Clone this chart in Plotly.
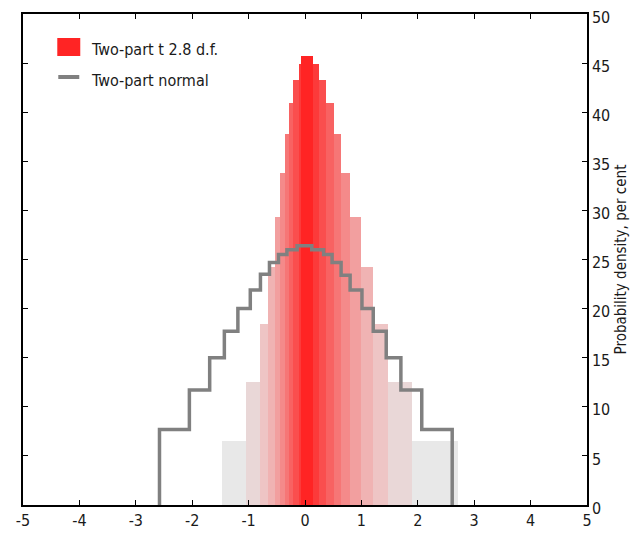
import plotly.graph_objects as go

# ---- data ----
# Two-part t (2.8 d.f.) fan bands, outermost to innermost
band_left = [-1.48, -1.05, -0.80, -0.65, -0.54, -0.45, -0.35, -0.28, -0.21, -0.11, -0.07]
band_right = [2.71, 1.90, 1.48, 1.21, 0.99, 0.80, 0.64, 0.51, 0.37, 0.24, 0.135]
band_height = [6.55, 12.55, 18.4, 24.2, 29.3, 33.8, 37.75, 40.9, 43.3, 44.9, 45.7]

# Two-part normal step outline: step edges and heights between them
normal_edges = [-2.58, -2.05, -1.69, -1.43, -1.19, -0.97, -0.79, -0.63, -0.47, -0.32, -0.14,
                0.12, 0.33, 0.48, 0.64, 0.80, 1.01, 1.21, 1.44, 1.70, 2.07, 2.61]
normal_height = [7.7, 11.7, 15.0, 17.7, 20.0, 21.9, 23.5, 24.7, 25.5, 26.0, 26.4,
                 26.0, 25.5, 24.7, 23.4, 21.9, 20.0, 17.7, 15.0, 11.7, 7.7]

x_ticks = [-5, -4, -3, -2, -1, 0, 1, 2, 3, 4, 5]
y_ticks = [0, 5, 10, 15, 20, 25, 30, 35, 40, 45, 50]

legend_labels = ["Two-part t 2.8 d.f.", "Two-part normal"]
y_title = "Probability density, per cent"

# ---- styles ----
band_colors = ["#e8e8e8", "#e9d7d7", "#eec5c5", "#f0b3b3", "#f29f9f", "#f48a8a",
               "#f67676", "#f86262", "#fa4e4e", "#fc3a3a", "#ff2424"]
FONT = "DejaVu Sans Condensed, Liberation Sans, sans-serif"
TXT = "#1a1a1a"

centers = [(l + r) / 2 for l, r in zip(band_left, band_right)]
widths = [r - l for l, r in zip(band_left, band_right)]

fig = go.Figure()
fig.add_trace(go.Bar(
    x=centers, y=band_height, width=widths, base=0,
    marker=dict(color=band_colors, line=dict(width=0)),
    showlegend=False, hoverinfo="skip",
))

step_x = [normal_edges[0]] + normal_edges
step_y = [0] + normal_height + [0]
fig.add_trace(go.Scatter(
    x=step_x, y=step_y, mode="lines", line=dict(shape="hv", color="#808080", width=3.5),
    showlegend=False, hoverinfo="skip",
))

# page offset (browser body margin) = 8 px
OFF = 8
ML, MT, MR, MB = 22.7 - OFF, 14 - OFF, 55, 29
FW, FH = 642 - OFF, 534 - OFF
W = FW - ML - MR
H = FH - MT - MB

def px(x):  # page pixel -> paper x
    return (x - OFF - ML) / W
def py(y):  # page pixel -> paper y
    return (MT + H - (y - OFF)) / H

fig.add_shape(type="rect", xref="paper", yref="paper",
              x0=px(57), x1=px(80), y0=py(56), y1=py(38),
              fillcolor="#ff2424", line=dict(width=0))
fig.add_shape(type="line", xref="paper", yref="paper",
              x0=px(58), x1=px(79), y0=py(77), y1=py(77),
              line=dict(color="#808080", width=4))
fig.add_annotation(xref="paper", yref="paper", x=px(89), y=py(49), text=legend_labels[0],
                   showarrow=False, xanchor="left", yanchor="middle",
                   font=dict(family=FONT, size=16, color=TXT))
fig.add_annotation(xref="paper", yref="paper", x=px(89), y=py(81), text=legend_labels[1],
                   showarrow=False, xanchor="left", yanchor="middle",
                   font=dict(family=FONT, size=16, color=TXT))

fig.update_layout(
    width=FW, height=FH,
    margin=dict(l=ML, r=MR, t=MT, b=MB, pad=0, autoexpand=False),
    paper_bgcolor="white", plot_bgcolor="white",
    barmode="overlay", bargap=0,
    font=dict(family=FONT, size=16, color=TXT),
    showlegend=False,
)
fig.update_xaxes(
    range=[-5, 5], tickvals=x_ticks, ticktext=[str(v) for v in x_ticks],
    ticks="inside", ticklen=5, tickwidth=1, tickcolor="black",
    showline=True, linecolor="black", linewidth=1.5, mirror="allticks",
    showgrid=False, zeroline=False, fixedrange=True, automargin=False,
    ticklabeloverflow="allow",
    tickfont=dict(family=FONT, size=16, color=TXT),
)
fig.update_yaxes(
    range=[0, 50], tickvals=y_ticks, ticktext=[str(v) for v in y_ticks], side="right",
    ticks="inside", ticklen=5, tickwidth=1, tickcolor="black",
    showline=True, linecolor="black", linewidth=1.5, mirror="allticks",
    showgrid=False, zeroline=False, fixedrange=True, automargin=False,
    ticklabeloverflow="allow", ticklabelshift=3,
    tickfont=dict(family=FONT, size=16, color=TXT),
    title=dict(text=y_title, font=dict(family=FONT, size=15, color=TXT), standoff=6),
)

fig.write_html("out.html")
